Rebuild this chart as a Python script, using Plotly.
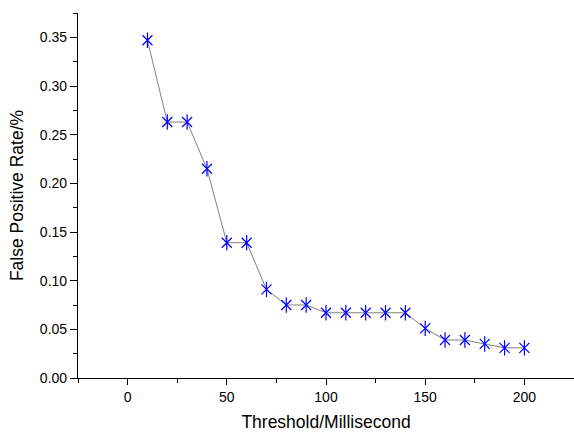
import plotly.graph_objects as go

thresholds = [10, 20, 30, 40, 50, 60, 70, 80, 90, 100, 110, 120, 130, 140, 150, 160, 170, 180, 190, 200]
fp_rate = [0.347, 0.263, 0.263, 0.215, 0.139, 0.139, 0.091, 0.075, 0.075, 0.067,
           0.067, 0.067, 0.067, 0.067, 0.051, 0.039, 0.039, 0.035, 0.031, 0.031]

x_ticks = [0, 50, 100, 150, 200]
y_ticks = [0.00, 0.05, 0.10, 0.15, 0.20, 0.25, 0.30, 0.35]

BLUE = "#0000FF"
FONT = "Liberation Sans, Arial, sans-serif"

fig = go.Figure()
fig.add_trace(go.Scatter(x=thresholds, y=fp_rate, mode="lines",
                         line=dict(color="#808080", width=1), showlegend=False))
fig.add_trace(go.Scatter(x=thresholds, y=fp_rate, mode="markers",
                         marker=dict(symbol="x-thin-open", size=10, color=BLUE,
                                     line=dict(color=BLUE, width=1.2)),
                         showlegend=False))
fig.add_trace(go.Scatter(x=thresholds, y=fp_rate, mode="markers",
                         marker=dict(symbol="line-ns-open", size=11, color=BLUE,
                                     line=dict(color=BLUE, width=1.2)),
                         showlegend=False))

axis_common = dict(showgrid=False, zeroline=False, showline=True, linecolor="black",
                   linewidth=1.2, ticks="outside", tickwidth=1.2,
                   tickcolor="black", mirror=False, automargin=False,
                   tickfont=dict(family=FONT, size=14, color="black"))

fig.update_layout(
    width=574, height=432,
    margin=dict(l=78, r=0, t=13, b=54),
    paper_bgcolor="white", plot_bgcolor="white",
    font=dict(family=FONT, color="black"),
    xaxis=dict(range=[-25, 225], tickvals=x_ticks, ticktext=[str(v) for v in x_ticks], ticklen=6,
               minor=dict(dtick=25, tick0=-25, ticks="outside", ticklen=4, tickwidth=1.2, tickcolor="black"),
               title=dict(text="Threshold/Millisecond", font=dict(family=FONT, size=17.5), standoff=15),
               **axis_common),
    yaxis=dict(range=[0, 0.375], tickvals=y_ticks, ticktext=[f"{v:.2f}" for v in y_ticks], ticklen=7,
               minor=dict(dtick=0.025, tick0=0, ticks="outside", ticklen=4, tickwidth=1.2, tickcolor="black"),
               title=dict(text="False Positive Rate/%", font=dict(family=FONT, size=17.5), standoff=11),
               **axis_common),
)

fig.write_html("out.html", config={"displayModeBar": False},
               post_script="document.body.style.margin='0';document.body.style.overflow='hidden';")
